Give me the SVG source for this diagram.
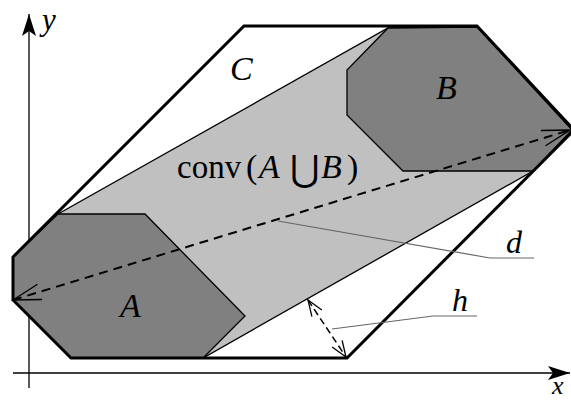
<svg xmlns="http://www.w3.org/2000/svg" width="571" height="401" viewBox="0 0 571 401">
<style>
.lbl{font-family:"Liberation Serif","DejaVu Serif",serif;font-style:italic;fill:#000}
.rm{font-family:"Liberation Serif","DejaVu Serif",serif;fill:#000}
.thin{stroke:#000;stroke-width:1.3;stroke-linejoin:miter}
.lead{fill:none;stroke:#666;stroke-width:1.2}
</style>
<defs>
<marker id="openArrow" markerUnits="userSpaceOnUse" markerWidth="40" markerHeight="40" viewBox="-35 -20 40 40" refX="0" refY="0" orient="auto-start-reverse" overflow="visible">
<path d="M -28 -8 L 0 0 L -28 8" fill="none" stroke="#000" stroke-width="1.3" stroke-dasharray="none"/>
</marker>
<marker id="smallArrow" markerUnits="userSpaceOnUse" markerWidth="30" markerHeight="30" viewBox="-25 -15 30 30" refX="0" refY="0" orient="auto-start-reverse" overflow="visible">
<path d="M -16 -6 L 0 0 L -16 6" fill="none" stroke="#000" stroke-width="1.3" stroke-dasharray="none"/>
</marker>
<marker id="axisArrow" markerUnits="userSpaceOnUse" markerWidth="30" markerHeight="30" viewBox="-25 -10 30 20" refX="0" refY="0" orient="auto" overflow="visible">
<path d="M 0 0 L -22 -7 L -17 0 L -22 7 Z" fill="#000"/>
</marker>
</defs>
<g id="axes">
<line x1="29" y1="388" x2="29" y2="14" stroke="#000" stroke-width="1.3" marker-end="url(#axisArrow)"/>
<line x1="13" y1="373" x2="570" y2="373" stroke="#000" stroke-width="1.3" marker-end="url(#axisArrow)"/>
<text class="lbl" x="42" y="30" font-size="31">y</text>
<text class="lbl" x="552" y="394" font-size="26">x</text>
</g>
<g id="C">
<polygon points="244,26 477,26 574,130 347,358 71,358 13,300 13,257" fill="#fff" stroke="none"/>
</g>
<g id="hull">
<polygon points="13,257 58,214 388,28 477,27 572,130 533,171 203,358 71,358 13,300" fill="#c0c0c0" class="thin"/>
</g>
<g id="A">
<polygon points="13,257 58,214 145,214 245,316 203,358 71,358 13,300" fill="#808080" class="thin"/>
</g>
<g id="B">
<polygon points="388,28 477,27 572,130 533,171 403,171 347,115 347,70" fill="#808080" class="thin"/>
</g>
<g id="C-outline">
<polygon points="244,26 477,26 574,130 347,358 71,358 13,300 13,257" fill="none" stroke="#000" stroke-width="3" stroke-linejoin="miter"/>
</g>
<g id="connectors">
<line x1="13" y1="300" x2="570" y2="130" stroke="#000" stroke-width="2" stroke-dasharray="9,6" marker-start="url(#openArrow)" marker-end="url(#openArrow)"/>
<line x1="308" y1="300" x2="346" y2="357" stroke="#000" stroke-width="1.5" stroke-dasharray="7,4" marker-start="url(#smallArrow)" marker-end="url(#smallArrow)"/>
<polyline class="lead" points="278,221 490,258 534,258"/>
<polyline class="lead" points="332,329 433,316 477,316"/>
</g>
<g id="labels">
<text class="lbl" x="230" y="80" font-size="34">C</text>
<text class="lbl" x="436" y="99" font-size="34">B</text>
<text class="lbl" x="120" y="317" font-size="34">A</text>
<text class="lbl" x="506" y="253" font-size="32">d</text>
<text class="lbl" x="452" y="311" font-size="32">h</text>
<text class="rm" x="177" y="178" font-size="33">conv</text>
<text class="rm" x="246" y="178" font-size="34">(</text>
<text class="lbl" x="259" y="178" font-size="34">A</text>
<text x="290" y="181" font-size="36" font-family="DejaVu Serif, serif">⋃</text>
<text class="lbl" x="321" y="178" font-size="34">B</text>
<text class="rm" x="347" y="178" font-size="34">)</text>
</g>
</svg>
